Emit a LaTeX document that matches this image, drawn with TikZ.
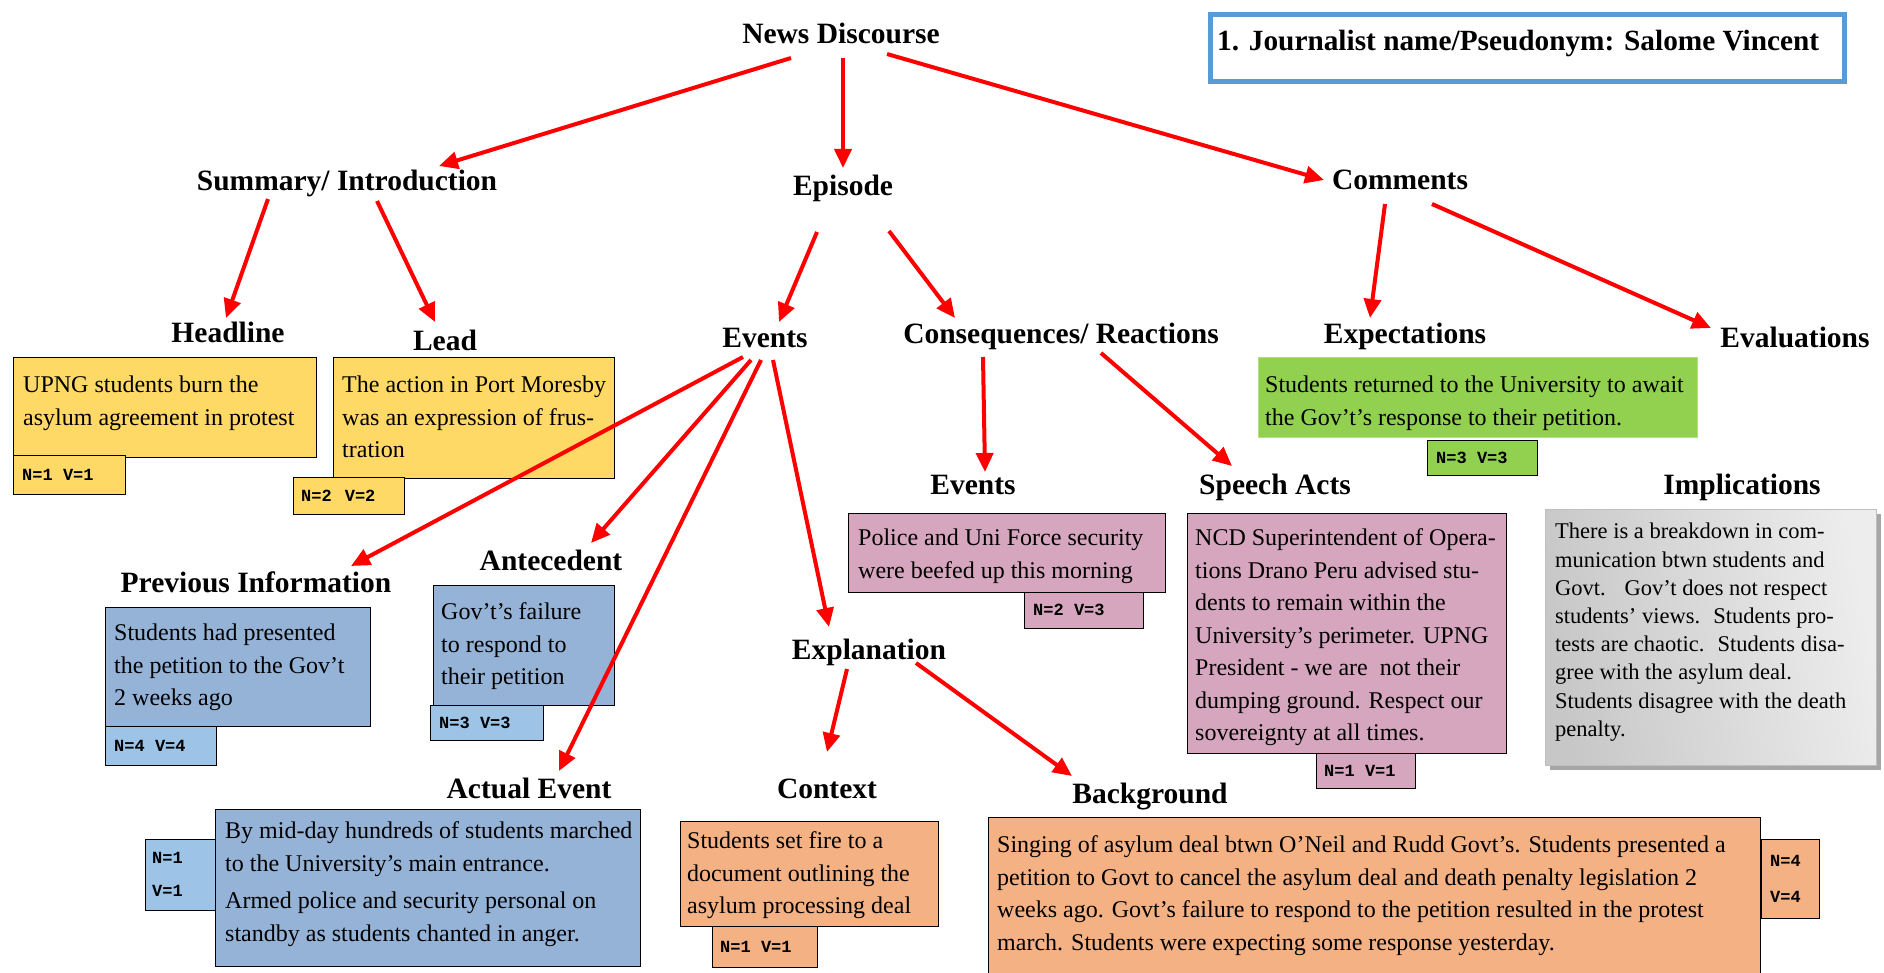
\documentclass[tikz,border=0pt]{standalone}
\usepackage{fontspec}
\setmainfont{Liberation Serif}
\newfontfamily\monofam{Liberation Mono}
\usetikzlibrary{arrows.meta,calc}
\definecolor{cyellow}{HTML}{FFD966}
\definecolor{cblue}{HTML}{95B3D7}
\definecolor{cblueL}{HTML}{9DC3E6}
\definecolor{cpink}{HTML}{D5A6BD}
\definecolor{corange}{HTML}{F4B183}
\definecolor{cgreen}{HTML}{92D050}
\definecolor{cframe}{HTML}{5B9BD5}
\definecolor{cred}{HTML}{FF0000}
\tikzset{
  lbl/.style={font=\fontsize{29.5}{34}\selectfont\bfseries, inner sep=0pt, text height=20pt, text depth=0pt},
  box/.style={draw=black, line width=1.3pt, anchor=north west, inner sep=0pt},
  txt/.style={anchor=north west, align=left, inner sep=0pt, font=\fontsize{24}{32.5}\selectfont},
  nv/.style={draw=black, line width=1.3pt, anchor=north west, inner sep=0pt},
  nvt/.style={anchor=west, inner sep=0pt, align=left, font=\monofam\bfseries\fontsize{17}{30}\selectfont},
  arr/.style={draw=cred, line width=4pt, -{Triangle[length=19pt,width=17pt]}}
}
\begin{document}
\begin{tikzpicture}[x=1pt,y=-1pt]
\clip (0,0) rectangle (1884,973);
\fill[white] (0,0) rectangle (1884,973);

% journalist frame
\node[draw=cframe, line width=5pt, anchor=north west, minimum width=634pt, minimum height=67pt, inner sep=0pt] (jbox) at (1207.5,12.5) {};
\node[lbl, anchor=west, font=\fontsize{29.3}{34}\selectfont\bfseries] (jtxt) at (1217,41) {1. Journalist name/Pseudonym: Salome Vincent};

% labels
\node[lbl] (nd) at (841,34) {News Discourse};
\node[lbl] (sum) at (347,181) {Summary/ Introduction};
\node[lbl] (epi) at (843,186) {Episode};
\node[lbl] (com) at (1400,180) {Comments};
\node[lbl] (head) at (228,333) {Headline};
\node[lbl] (lead) at (445,341) {Lead};
\node[lbl] (ev) at (765,338) {Events};
\node[lbl] (cons) at (1061,334) {Consequences/ Reactions};
\node[lbl] (expt) at (1405,334) {Expectations};
\node[lbl] (eval) at (1795,338) {Evaluations};
\node[lbl] (prev) at (256,582) {Previous Information};
\node[lbl] (ante) at (551,560) {Antecedent};
\node[lbl] (act) at (529,788) {Actual Event};
\node[lbl] (expl) at (869,649) {Explanation};
\node[lbl] (ctx) at (827,788) {Context};
\node[lbl] (bg) at (1150,793) {Background};
\node[lbl] (ev2) at (973,484) {Events};
\node[lbl] (sa) at (1275,484) {Speech Acts};
\node[lbl] (impl) at (1742,484) {Implications};

% Headline
\node[box, fill=cyellow, minimum width=303pt, minimum height=100pt] (headbox) at (13,357) {};
\node[txt] (headtxt) at (23,370) {\strut UPNG students burn the\\asylum agreement in protest};
\node[nv, fill=cyellow, minimum width=112pt, minimum height=39pt] (headnv) at (13,455) {};
\node[nvt] (headnvt) at (22,474.5) {N=1 V=1};

% Lead
\node[box, fill=cyellow, minimum width=281pt, minimum height=121pt] (leadbox) at (333,357) {};
\node[txt] (leadtxt) at (342,370) {\strut The action in Port Moresby\\was an expression of frus-\\tration};
\node[nv, fill=cyellow, minimum width=111pt, minimum height=37pt] (leadnv) at (293,477) {};
\node[nvt] (leadnvt) at (301,495.5) {N=2 \,V=2};

% Previous information
\node[box, fill=cblue, minimum width=265pt, minimum height=119pt] (prevbox) at (105,607) {};
\node[txt] (prevtxt) at (114,618) {\strut Students had presented\\the petition to the Gov’t\\2 weeks ago};
\node[nv, fill=cblueL, minimum width=111pt, minimum height=39pt] (prevnv) at (105,726) {};
\node[nvt] (prevnvt) at (114,745.5) {N=4 V=4};

% Antecedent
\node[box, fill=cblue, minimum width=181pt, minimum height=120pt] (antebox) at (433,585) {};
\node[txt] (antetxt) at (441,597) {\strut Gov’t’s failure\\to respond to\\their petition};
\node[nv, fill=cblueL, minimum width=113pt, minimum height=35pt] (antenv) at (430,705) {};
\node[nvt] (antenvt) at (439,722.5) {N=3 V=3};

% Actual event
\node[box, fill=cblue, minimum width=425pt, minimum height=157pt] (actbox) at (215,809) {};
\node[txt] (acttxt) at (225,816) {\strut By mid-day hundreds of students marched\\to the University’s main entrance.\\[5pt]Armed police and security personal on\\standby as students chanted in anger.};
\node[nv, fill=cblueL, minimum width=70pt, minimum height=71pt] (actnv) at (145,839) {};
\node[nvt, font=\monofam\bfseries\fontsize{17}{33}\selectfont] (actnvt) at (152,874.5) {N=1\\V=1};

% Context
\node[box, fill=corange, minimum width=258pt, minimum height=105pt] (ctxbox) at (680,821) {};
\node[txt] (ctxtxt) at (687,826) {\strut Students set fire to a\\document outlining the\\asylum processing deal};
\node[nv, fill=corange, minimum width=105pt, minimum height=41pt] (ctxnv) at (712,926) {};
\node[nvt] (ctxnvt) at (720,946.5) {N=1 V=1};

% Background
\node[box, fill=corange, minimum width=772pt, minimum height=170pt] (bgbox) at (988,817) {};
\node[txt] (bgtxt) at (997,830) {\strut Singing of asylum deal btwn O’Neil and Rudd Govt’s. Students presented a\\petition to Govt to cancel the asylum deal and death penalty legislation 2\\weeks ago. Govt’s failure to respond to the petition resulted in the protest\\march. Students were expecting some response yesterday.};
\node[nv, fill=corange, minimum width=58pt, minimum height=79pt] (bgnv) at (1761,839) {};
\node[nvt, font=\monofam\bfseries\fontsize{17}{36}\selectfont] (bgnvt) at (1770,878.5) {N=4\\V=4};

% Events (consequences)
\node[box, fill=cpink, minimum width=317pt, minimum height=79pt] (ev2box) at (848,513) {};
\node[txt] (ev2txt) at (858,523) {\strut Police and Uni Force security\\were beefed up this morning};
\node[nv, fill=cpink, minimum width=119pt, minimum height=36pt] (ev2nv) at (1024,592) {};
\node[nvt] (ev2nvt) at (1033,610) {N=2 V=3};

% Speech acts
\node[box, fill=cpink, minimum width=319pt, minimum height=240pt] (sabox) at (1187,513) {};
\node[txt] (satxt) at (1195,523) {\strut NCD Superintendent of Opera-\\tions Drano Peru advised stu-\\dents to remain within the\\University’s perimeter. UPNG\\President - we are \ not their\\dumping ground. Respect our\\sovereignty at all times.};
\node[nv, fill=cpink, minimum width=99pt, minimum height=35pt] (sanv) at (1316,753) {};
\node[nvt] (sanvt) at (1324,770.5) {N=1 V=1};

% Expectations
\node[anchor=north west, inner sep=0pt, fill=cgreen, draw=cgreen!70!white, line width=1pt, minimum width=439pt, minimum height=80pt] (expbox) at (1258,357) {};
\node[txt] (exptxt) at (1265,370) {\strut Students returned to the University to await\\the Gov’t’s response to their petition.};
\node[nv, fill=cgreen, minimum width=110pt, minimum height=35pt] (expnv) at (1427,440) {};
\node[nvt] (expnvt) at (1436,457.5) {N=3 V=3};

% Implications
\fill[black!35] (1550,514) rectangle (1881,770);
\node[anchor=north west, inner sep=0pt, left color=black!22, right color=black!7, shading angle=100, draw=black!25, line width=1pt, minimum width=331pt, minimum height=256pt] (implbox) at (1545,509) {};
\node[anchor=north west, align=left, inner sep=0pt, font=\fontsize{22.5}{28.2}\selectfont] (impltxt) at (1555,519) {\strut There is a breakdown in com-\\munication btwn students and\\Govt. \ \ Gov’t does not respect\\students’ views. \ Students pro-\\tests are chaotic. \ Students disa-\\gree with the asylum deal.\\Students disagree with the death\\penalty.};

% arrows
\draw[arr] ($(nd)+(-50,24)$) -- ($(sum)+(92,-15)$);
\draw[arr] ($(nd)+(2,24)$) -- ($(epi)+(0,-18)$);
\draw[arr] ($(nd)+(46,20)$) -- ($(com)+(-76,0)$);
\draw[arr] ($(sum)+(-79,18)$) -- ($(head)+(-2,-15)$);
\draw[arr] ($(sum)+(30,20)$) -- ($(lead)+(-10,-19)$);
\draw[arr] ($(epi)+(-26,46)$) -- ($(ev)+(14,-16)$);
\draw[arr] ($(epi)+(46,45)$) -- ($(cons)+(-106,-16)$);
\draw[arr] ($(com)+(-15,24)$) -- ($(expt)+(-35,-16)$);
\draw[arr] ($(com)+(32,24)$) -- ($(eval)+(-84,-10)$);
\draw[arr] ($(ev)+(-22,19)$) -- ($(prev)+(95,-16)$);
\draw[arr] ($(ev)+(-14,22)$) -- ($(ante)+(40,-17)$);
\draw[arr] ($(ev)+(-4,22)$) -- ($(act)+(30,-17)$);
\draw[arr] ($(ev)+(8,22)$) -- ($(expl)+(-40,-22)$);
\draw[arr] ($(cons)+(-78,23)$) -- ($(ev2)+(12,-12)$);
\draw[arr] ($(cons)+(40,19)$) -- ($(sa)+(-43,-18)$);
\draw[arr] ($(expl)+(-22,20)$) -- ($(ctx)+(0,-36)$);
\draw[arr] ($(expl)+(47,14)$) -- ($(bg)+(-78,-17)$);
\end{tikzpicture}
\end{document}
